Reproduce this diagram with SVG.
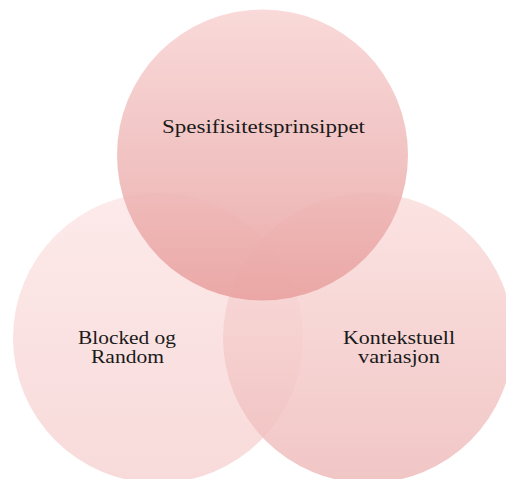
<svg xmlns="http://www.w3.org/2000/svg" width="506" height="479" viewBox="0 0 506 479">
<defs>
<linearGradient id="gTop" x1="0" y1="0" x2="0" y2="1">
<stop offset="0" stop-color="#f9d4d4"/>
<stop offset="0.55" stop-color="#eeb9b8"/>
<stop offset="1" stop-color="#e8a09e"/>
</linearGradient>
<linearGradient id="gLeft" x1="0" y1="0" x2="0" y2="1">
<stop offset="0" stop-color="#fdeaea"/>
<stop offset="1" stop-color="#f8dada"/>
</linearGradient>
<linearGradient id="gRight" x1="0" y1="0" x2="0" y2="1">
<stop offset="0" stop-color="#fbdfde"/>
<stop offset="1" stop-color="#eebcbb"/>
</linearGradient>
<style>
.lbl{font-family:"Liberation Serif","DejaVu Serif",serif;font-size:19px;fill:#1a1a1a;text-anchor:middle}
</style>
</defs>
<rect width="506" height="479" fill="#ffffff"/>
<g id="left">
<circle cx="158" cy="338" r="145" fill="url(#gLeft)"/>
<text class="lbl" x="127" y="344" textLength="98" lengthAdjust="spacingAndGlyphs">Blocked og</text>
<text class="lbl" x="127.5" y="363" textLength="73" lengthAdjust="spacingAndGlyphs">Random</text>
</g>
<g id="right">
<circle cx="368" cy="338" r="145" fill="url(#gRight)" fill-opacity="0.85"/>
<text class="lbl" x="399" y="344" textLength="112" lengthAdjust="spacingAndGlyphs">Kontekstuell</text>
<text class="lbl" x="399" y="363" textLength="82" lengthAdjust="spacingAndGlyphs">variasjon</text>
</g>
<g id="top">
<circle cx="262.5" cy="155" r="145.5" fill="url(#gTop)" fill-opacity="0.88"/>
<text class="lbl" x="263.5" y="133" textLength="203" lengthAdjust="spacingAndGlyphs">Spesifisitetsprinsippet</text>
</g>
<g id="connectors"/>
</svg>
